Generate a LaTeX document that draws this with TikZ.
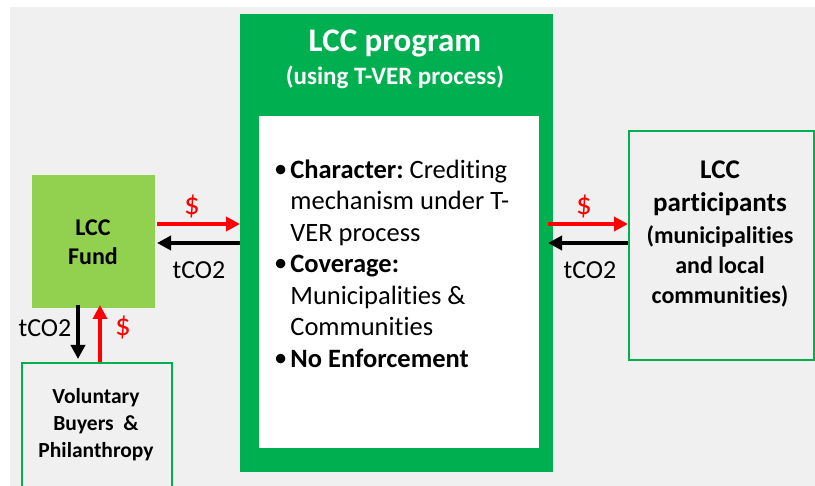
\documentclass[tikz,border=0pt]{standalone}
\usepackage{fontspec}
\setmainfont{Carlito}[Ligatures=CommonOff]
\usetikzlibrary{arrows.meta}
\definecolor{pptgreen}{HTML}{00B050}
\definecolor{lightgreen}{HTML}{92D050}
\definecolor{bggray}{HTML}{F0F0F0}
\tikzset{
  flow/.style={line width=3.5pt,-{Triangle[length=14pt,width=14pt]}},
  money/.style={flow,red},
  carbon/.style={flow,black},
  lbl/.style={font=\fontsize{26}{28}\selectfont,inner sep=0pt},
  dollar/.style={font=\fontsize{31}{33}\selectfont,inner sep=0pt,text=red},
  outbox/.style={draw=pptgreen,line width=2pt,fill=bggray,inner sep=0pt},
}
\begin{document}
\begin{tikzpicture}[x=1pt,y=-1pt]
\useasboundingbox (0,0) rectangle (815,486);
\fill[bggray] (10,7) rectangle (815,486);
% program box
\node[fill=pptgreen,minimum width=313pt,minimum height=458pt,anchor=north west,inner sep=0pt] (prog) at (240,14) {};
\node[fill=white,minimum width=280pt,minimum height=332pt,anchor=north west,inner sep=0pt] (inner) at (259,116) {};
\node[text=white,font=\bfseries\fontsize{33}{35}\selectfont,inner sep=0pt] (title) at (395,43) {LCC program};
\node[text=white,font=\bfseries\fontsize{25}{27}\selectfont,inner sep=0pt] (sub) at (395,77) {(using T-VER process)};
\node[anchor=north west,inner sep=0pt,align=left,font=\fontsize{26.5}{31.5}\selectfont] (body) at (274,156) {%
\begin{tabular}{@{}l@{\hspace{3pt}}l@{}}
\raisebox{1pt}{\textbullet} & \textbf{Character:}\hspace{-2pt} Crediting\\
 & mechanism under T-\\
 & VER process\\
\raisebox{1pt}{\textbullet} & \textbf{Coverage:}\\
 & Municipalities \&\\
 & Communities\\
\raisebox{1pt}{\textbullet} & \textbf{No Enforcement}
\end{tabular}};
% fund
\node[fill=lightgreen,minimum width=123pt,minimum height=133pt,anchor=north west,inner sep=0pt] (fund) at (32,175) {};
\node[font=\bfseries\fontsize{24}{29}\selectfont,align=center,inner sep=0pt] (fundtxt) at (93,242) {LCC\\Fund};
% voluntary
\node[outbox,minimum width=150pt,minimum height=130pt,anchor=north west] (vol) at (21,362) {};
\node[font=\bfseries\fontsize{21.5}{27}\selectfont,align=center,inner sep=0pt] (voltxt) at (96,425) {Voluntary\\Buyers~~\&\\Philanthropy};
% participants
\node[outbox,minimum width=185pt,minimum height=229pt,anchor=north west] (part) at (628,130) {};
\node[font=\bfseries\fontsize{27}{33}\selectfont,align=center,inner sep=0pt] (parttxt) at (720,188) {LCC\\participants};
\node[font=\bfseries\fontsize{24}{30}\selectfont,align=center,inner sep=0pt] (parttxt2) at (720,266) {(municipalities\\and local\\communities)};
% coordinates
\coordinate (fr1) at (157,224);
\coordinate (pl1) at (240,224);
\coordinate (fr2) at (157,243);
\coordinate (pl2) at (240,243);
\coordinate (pr1) at (548,224);
\coordinate (pa1) at (628,224);
\coordinate (pr2) at (548,243);
\coordinate (pa2) at (628,243);
\coordinate (fb1) at (78,305);
\coordinate (vt1) at (78,359);
\coordinate (fb2) at (100,305);
\coordinate (vt2) at (100,362);
\draw[money] (fr1) -- (pl1);
\draw[carbon] (pl2) -- (fr2);
\draw[money] (pr1) -- (pa1);
\draw[carbon] (pa2) -- (pr2);
\draw[carbon] (fb1) -- (vt1);
\draw[money] (vt2) -- (fb2);
\node[dollar] (d1) at (192,206) {\$};
\node[lbl] (t1) at (199,270) {tCO2};
\node[dollar] (d2) at (584,206) {\$};
\node[lbl] (t2) at (590,270) {tCO2};
\node[lbl] (t3) at (45,328) {tCO2};
\node[dollar] (d3) at (123,327) {\$};
\end{tikzpicture}
\end{document}
